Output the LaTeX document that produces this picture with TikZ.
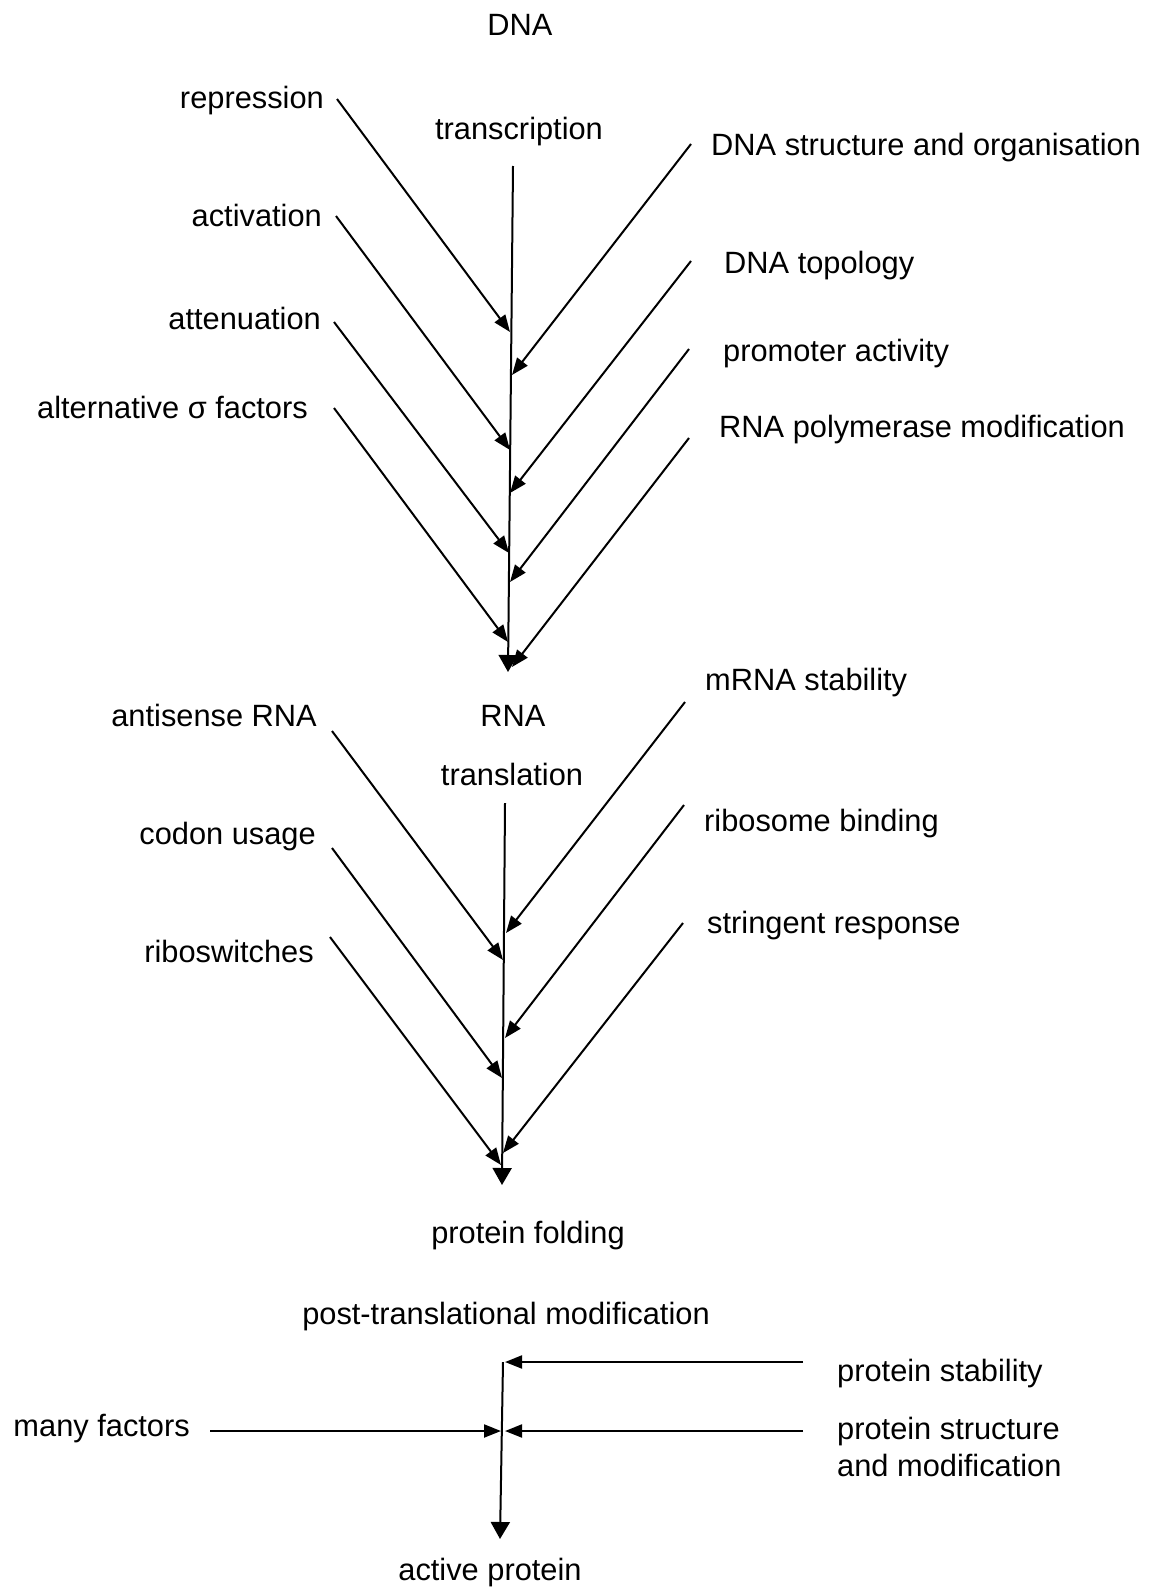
\documentclass[tikz,border=0pt]{standalone}
\usepackage{fontspec}
\setmainfont{Liberation Sans}
\usetikzlibrary{arrows.meta}
\begin{document}
\begin{tikzpicture}[x=1pt,y=-1pt,
  lbl/.style={inner sep=0pt, yshift=-3pt, font=\fontsize{30.8}{37.5}\selectfont, text height=22pt, text depth=7pt},
  lft/.style={lbl, anchor=east},
  rgt/.style={lbl, anchor=west},
  ctr/.style={lbl, anchor=center},
  conn/.style={line width=2pt, -{Triangle[length=17pt,width=13pt]}},
  mainarr/.style={line width=2pt, -{Triangle[length=17pt,width=19pt]}},
]
\useasboundingbox (0,0) rectangle (1149,1587);

% ---------- transcription ----------
\node[ctr] (dna) at (520,25) {DNA};
\node[ctr] (transcription) at (519,129) {transcription};
\node[lft] (repression) at (324,98) {repression};
\node[rgt] (dnastruct) at (711,145) {DNA structure and organisation};
\node[lft] (activation) at (322,216) {activation};
\node[rgt] (topology) at (724,263) {DNA topology};
\node[lft] (attenuation) at (321,319) {attenuation};
\node[rgt] (promoter) at (723,351) {promoter activity};
\node[lft] (altsigma) at (308,408) {alternative σ factors};
\node[rgt] (rnapol) at (719,427) {RNA polymerase modification};

\coordinate (tr-top) at (513,166);
\coordinate (tr-end) at (508,672);
\coordinate (s-rep) at (337,99);   \coordinate (t-rep) at (510,332);
\coordinate (s-dns) at (691,144);  \coordinate (t-dns) at (512,375);
\coordinate (s-act) at (336,216);  \coordinate (t-act) at (510,450);
\coordinate (s-top) at (691,261);  \coordinate (t-top) at (510,493);
\coordinate (s-att) at (334,322);  \coordinate (t-att) at (509,553);
\coordinate (s-pro) at (689,349);  \coordinate (t-pro) at (510,582);
\coordinate (s-sig) at (334,408);  \coordinate (t-sig) at (508,642);
\coordinate (s-pol) at (689,438);  \coordinate (t-pol) at (512,667);

\draw[mainarr] (tr-top) -- (tr-end);
\foreach \k in {rep,dns,act,top,att,pro,sig,pol}
  \draw[conn] (s-\k) -- (t-\k);

% ---------- translation ----------
\node[ctr] (rna) at (513,716) {RNA};
\node[ctr] (translation) at (512,775) {translation};
\node[rgt] (mrna) at (705,680) {mRNA stability};
\node[lft] (antisense) at (317,716) {antisense RNA};
\node[rgt] (ribosome) at (704,821) {ribosome binding};
\node[lft] (codon) at (316,834) {codon usage};
\node[rgt] (stringent) at (707,923) {stringent response};
\node[lft] (riboswitch) at (314,952) {riboswitches};

\coordinate (tl-top) at (505,803);
\coordinate (tl-end) at (502,1185);
\coordinate (s-mrn) at (685,702);  \coordinate (t-mrn) at (506,933);
\coordinate (s-ant) at (332,731);  \coordinate (t-ant) at (503,960);
\coordinate (s-rib) at (684,805);  \coordinate (t-rib) at (505,1038);
\coordinate (s-cod) at (332,848);  \coordinate (t-cod) at (502,1078);
\coordinate (s-str) at (683,923);  \coordinate (t-str) at (503,1153);
\coordinate (s-rsw) at (330,937);  \coordinate (t-rsw) at (501,1165);

\draw[mainarr] (tl-top) -- (tl-end);
\foreach \k in {mrn,ant,rib,cod,str,rsw}
  \draw[conn] (s-\k) -- (t-\k);

% ---------- protein ----------
\node[ctr] (folding) at (528,1233) {protein folding};
\node[ctr] (ptm) at (506,1314) {post-translational modification};
\node[rgt] (stability) at (837,1371) {protein stability};
\node[lft] (many) at (190,1426) {many factors};
\node[inner sep=0pt, yshift=-3pt, font=\fontsize{30.8}{37.5}\selectfont, align=left, anchor=west]
  (structure) at (837,1444) {protein structure\\and modification};
\node[ctr] (active) at (490,1570) {active protein};

\coordinate (pt-top) at (503,1362);
\coordinate (pt-end) at (500,1539);
\coordinate (s-stab) at (803,1362); \coordinate (t-stab) at (505,1362);
\coordinate (s-many) at (210,1431); \coordinate (t-many) at (501,1431);
\coordinate (s-stru) at (803,1431); \coordinate (t-stru) at (505,1431);

\draw[mainarr] (pt-top) -- (pt-end);
\foreach \k in {stab,many,stru}
  \draw[conn] (s-\k) -- (t-\k);
\end{tikzpicture}
\end{document}
